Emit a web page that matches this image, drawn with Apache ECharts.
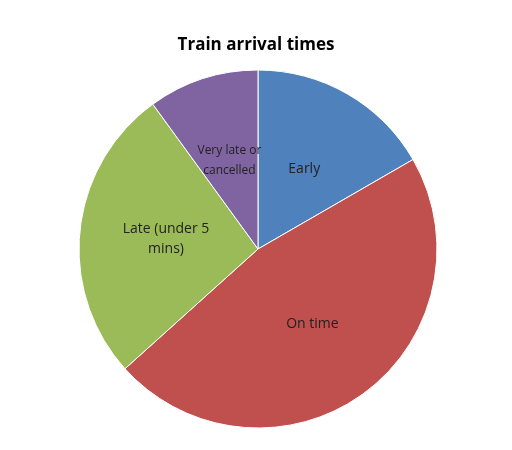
<!DOCTYPE html>
<html><head><meta charset="utf-8">
<script src="https://cdn.jsdelivr.net/npm/echarts@6/dist/echarts.min.js"></script>
<style>html,body{margin:0;padding:0;background:#fff}#c{width:512px;height:450px}</style>
</head><body><div id="c"></div>
<script>
var categories = ["Early", "On time", "Late (under 5\nmins)", "Very late or\ncancelled"];
var values = [5, 14, 8, 3];
var colors = ["#4F81BD", "#C0504D", "#9BBB59", "#8064A2"];
var chart = echarts.init(document.getElementById('c'));
chart.setOption({
  animation: false,
  title: {text: "Train arrival times", left: 'center', top: 32, textStyle: {fontFamily: 'Open Sans', fontWeight: 'bold', fontSize: 17, color: '#000'}},
  series: [{
    type: 'pie', center: [258, 249], radius: [0, 179], startAngle: 90, clockwise: true,
    data: categories.map(function (n, i) {
      return {name: n, value: values[i], itemStyle: {color: colors[i]},
        label: i === 3 ? {fontSize: 12} : {}};
    }),
    itemStyle: {borderColor: '#fff', borderWidth: 1},
    label: {position: 'inside', color: '#222', fontFamily: 'Open Sans', fontSize: 14, lineHeight: 20, formatter: '{b}'},
    labelLine: {show: false}
  }]
});
</script></body></html>
